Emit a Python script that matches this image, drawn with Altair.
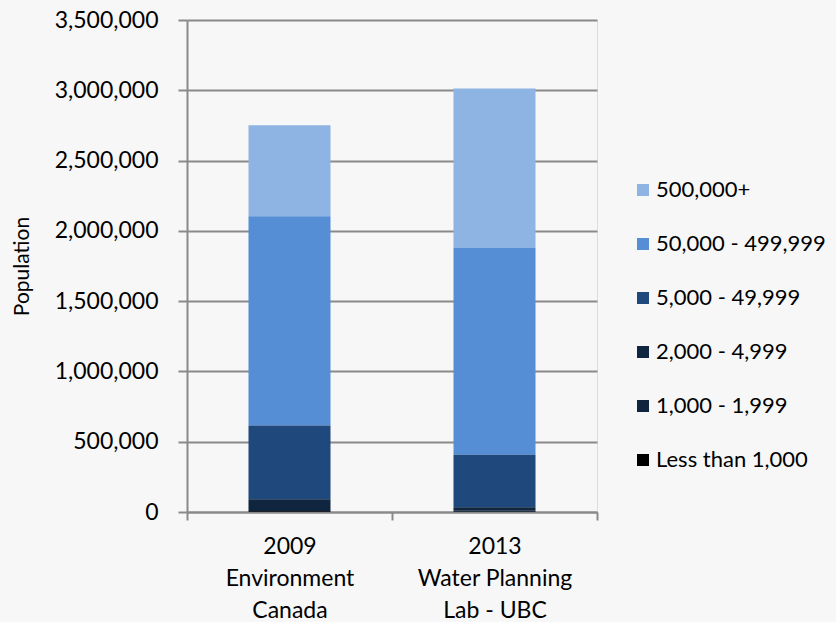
import altair as alt
import pandas as pd

# Source / year categories (multi-line axis labels split on "\n")
categories = ["2009\nEnvironment\nCanada", "2013\nWater Planning\nLab - UBC"]

# Community size classes, top of the legend first
size_classes = [
    "500,000+",
    "50,000 - 499,999",
    "5,000 - 49,999",
    "2,000 - 4,999",
    "1,000 - 1,999",
    "Less than 1,000",
]
class_colors = ["#8EB4E3", "#558ED5", "#1F497D", "#10253F", "#0F243E", "#000000"]

# Population served in each size class, per category
pop_500000_plus = [647000, 1135000]
pop_50000_499999 = [1488000, 1470000]
pop_5000_49999 = [526000, 375000]
pop_2000_4999 = [55000, 20000]
pop_1000_1999 = [30000, 11000]
pop_less_1000 = [5000, 2000]

series = [
    pop_500000_plus,
    pop_50000_499999,
    pop_5000_49999,
    pop_2000_4999,
    pop_1000_1999,
    pop_less_1000,
]

rows = []
for k, (name, vals) in enumerate(zip(size_classes, series)):
    for cat, v in zip(categories, vals):
        # stack from the smallest class upward
        rows.append({"source": cat, "size_class": name, "population": v,
                     "stack_order": len(size_classes) - k})
df = pd.DataFrame(rows)

GRID = "#8a8a8a"
FONT = "Lato"

chart = (
    alt.Chart(df)
    .mark_bar(width={"band": 0.4})
    .encode(
        x=alt.X(
            "source:N",
            sort=categories,
            scale=alt.Scale(paddingInner=0, paddingOuter=0),
            axis=alt.Axis(
                title=None,
                labelAngle=0,
                labelExpr="split(datum.label, '\\n')",
                labelFontSize=23,
                labelLineHeight=32,
                labelBaseline="top",
                labelPadding=15,
                labelColor="#000000",
                tickBand="extent",
                tickSize=8,
                tickWidth=2,
                tickColor=GRID,
                domainColor=GRID,
                domainWidth=2,
                grid=False,
            ),
        ),
        y=alt.Y(
            "population:Q",
            stack="zero",
            scale=alt.Scale(domain=[0, 3500000], nice=False),
            axis=alt.Axis(
                title="Population",
                titleFontSize=21,
                titleFontWeight="normal",
                titleColor="#000000",
                titlePadding=22,
                values=list(range(0, 3500001, 500000)),
                format=",d",
                labelFontSize=23,
                labelColor="#000000",
                labelPadding=20,
                tickSize=9,
                tickWidth=2,
                tickColor=GRID,
                domainColor=GRID,
                domainWidth=2,
                gridColor=GRID,
                gridWidth=2,
            ),
        ),
        color=alt.Color(
            "size_class:N",
            scale=alt.Scale(domain=size_classes, range=class_colors),
            legend=alt.Legend(
                title=None,
                orient="none",
                legendX=445,
                legendY=159,
                padding=0,
                symbolType="square",
                symbolSize=144,
                symbolStrokeWidth=0,
                labelFontSize=22,
                labelColor="#000000",
                labelOffset=2,
                rowPadding=32,
                labelLimit=300,
            ),
        ),
        order=alt.Order("stack_order:Q", sort="ascending"),
    )
    .properties(
        width=410,
        height=492,
        background="#f7f7f7",
        padding={"left": 187, "top": 20, "right": 239, "bottom": 110},
        autosize=alt.AutoSizeParams(type="none"),
    )
    .configure_view(stroke=None)
    .configure(font=FONT)
)

chart.save("out.html", embed_options={"renderer": "svg", "actions": False})
